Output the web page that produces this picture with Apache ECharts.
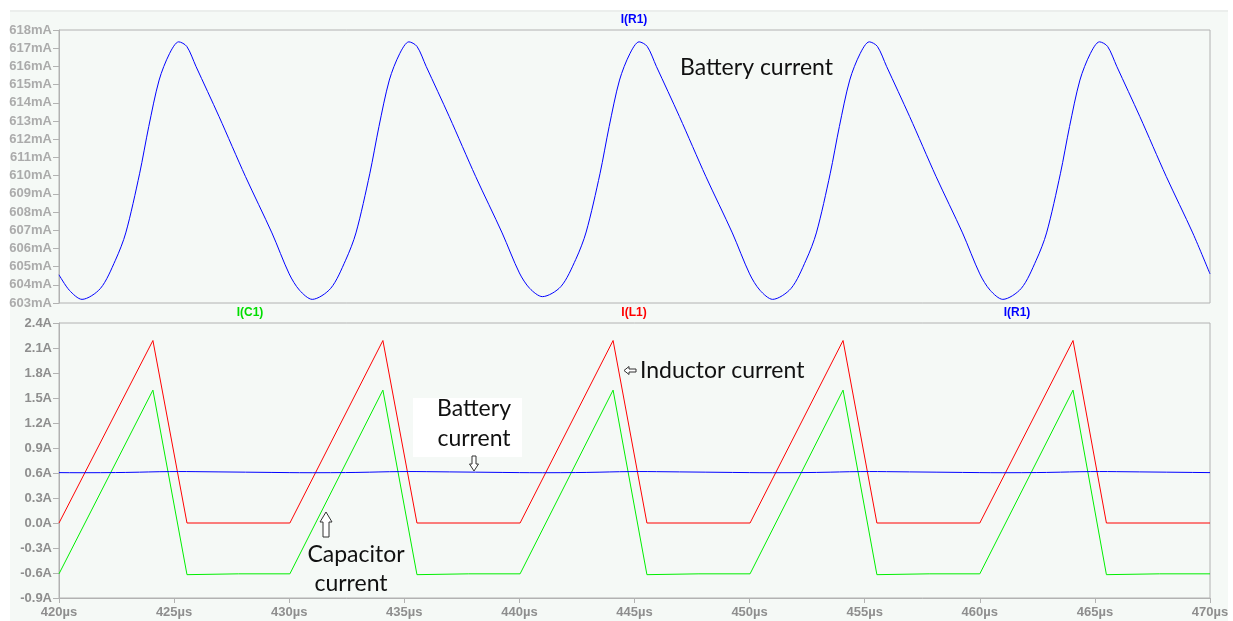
<!DOCTYPE html>
<html>
<head>
<meta charset="utf-8">
<title>I(R1) I(L1) I(C1)</title>
<script src="https://cdn.jsdelivr.net/npm/echarts@6/dist/echarts.min.js"></script>
<style>
  html, body { margin: 0; padding: 0; background: #fff; }
  #bg { position: absolute; left: 10px; top: 10px; width: 1218px; height: 611px;
        background: #f5f9f6; border-top: 2px solid #ebeeec; box-sizing: border-box; }
  #chart { position: absolute; left: 0; top: 0; width: 1233px; height: 621px; }
</style>
</head>
<body>
<div id="bg"></div>
<div id="chart"></div>
<script>
// time axis (µs)
var timeTicks = [420, 425, 430, 435, 440, 445, 450, 455, 460, 465, 470];

// battery current I(R1) (mA)
var batteryTime = [
  420, 420.45, 421, 421.8, 422.45, 422.9, 423.5, 423.9, 424.35, 424.8, 425.2, 425.55, 425.95, 426.95, 428.1, 429.25,
  430, 430.45, 431, 431.8, 432.45, 432.9, 433.5, 433.9, 434.35, 434.8, 435.2, 435.55, 435.95, 436.95, 438.1, 439.25,
  440, 440.45, 441, 441.8, 442.45, 442.9, 443.5, 443.9, 444.35, 444.8, 445.2, 445.55, 445.95, 446.95, 448.1, 449.25,
  450, 450.45, 451, 451.8, 452.45, 452.9, 453.5, 453.9, 454.35, 454.8, 455.2, 455.55, 455.95, 456.95, 458.1, 459.25,
  460, 460.45, 461, 461.8, 462.45, 462.9, 463.5, 463.9, 464.35, 464.8, 465.2, 465.55, 465.95, 466.95, 468.1, 469.25,
  470
];
var batteryMA = [
  604.55, 603.7, 603.2, 603.8, 605.35, 606.85, 610.1, 612.7, 615.25, 616.7, 617.35, 617.1, 616.0, 613.25, 609.95, 606.85,
  604.6, 603.7, 603.2, 603.8, 605.35, 606.85, 610.1, 612.7, 615.25, 616.7, 617.35, 617.1, 616.0, 613.25, 609.95, 606.85,
  604.65, 603.8, 603.35, 603.9, 605.4, 606.9, 610.1, 612.7, 615.25, 616.7, 617.35, 617.1, 616.0, 613.25, 609.95, 606.85,
  604.6, 603.7, 603.2, 603.8, 605.35, 606.85, 610.1, 612.7, 615.25, 616.7, 617.35, 617.1, 616.0, 613.25, 609.95, 606.85,
  604.6, 603.7, 603.2, 603.8, 605.35, 606.85, 610.1, 612.7, 615.25, 616.7, 617.35, 617.1, 616.0, 613.25, 609.95, 606.85,
  604.6
];

// inductor current I(L1) (A)
var inductorTime = [420, 424.08, 425.56, 430.03, 434.07, 435.55, 440.03, 444.07, 445.54, 450.02, 454.06, 455.53, 460.0, 464.05, 465.5, 470];
var inductorA    = [0, 2.19, 0, 0, 2.19, 0, 0, 2.19, 0, 0, 2.19, 0, 0, 2.19, 0, 0];

// capacitor current I(C1) (A)
var capacitorTime = [420, 424.08, 425.56, 427.8, 430.03, 434.07, 435.55, 437.8, 440.03, 444.07, 445.54, 447.8, 450.02, 454.06, 455.53, 457.8, 460.0, 464.05, 465.5, 467.8, 470];
var capacitorA    = [-0.61, 1.595, -0.62, -0.61, -0.61, 1.595, -0.62, -0.61, -0.61, 1.595, -0.62, -0.61, -0.61, 1.595, -0.62, -0.61, -0.61, 1.595, -0.62, -0.61, -0.61];

function zip(xs, ys, k) {
  return xs.map(function (x, i) { return [x, ys[i] * (k || 1)]; });
}

var axisGray = '#b2b2b2';
var labelFont = 'Liberation Sans';
var noteFont = 'Lato';

var chart = echarts.init(document.getElementById('chart'), null, { renderer: 'canvas' });

var option = {
  animation: false,
  backgroundColor: 'transparent',
  grid: [
    { left: 59, top: 30, width: 1151, height: 273, show: true, borderColor: axisGray, borderWidth: 1 },
    { left: 59, top: 323, width: 1151, height: 275, show: true, borderColor: axisGray, borderWidth: 1 }
  ],
  xAxis: [
    {
      type: 'value', gridIndex: 0, min: 420, max: 470, interval: 5,
      axisLine: { show: false, onZero: false }, axisTick: { show: false }, axisLabel: { show: false }, splitLine: { show: false }
    },
    {
      type: 'value', gridIndex: 1, min: 420, max: 470, interval: 5,
      axisLine: { show: true, onZero: false, lineStyle: { color: axisGray } },
      axisTick: { show: true, length: 5, lineStyle: { color: axisGray } },
      splitLine: { show: false },
      axisLabel: {
        margin: 8, color: '#8e8e8e', fontFamily: labelFont, fontWeight: 'bold', fontSize: 13,
        formatter: function (v) { return v + 'µs'; }
      }
    }
  ],
  yAxis: [
    {
      type: 'value', gridIndex: 0, min: 603, max: 618, interval: 1,
      axisLine: { show: true, onZero: false, lineStyle: { color: axisGray } },
      axisTick: { show: true, length: 6, lineStyle: { color: axisGray } },
      splitLine: { show: false },
      axisLabel: {
        margin: 7, color: '#ababab', fontFamily: labelFont, fontWeight: 'bold', fontSize: 13,
        formatter: function (v) { return v + 'mA'; }
      }
    },
    {
      type: 'value', gridIndex: 1, min: -0.9, max: 2.4, interval: 0.3,
      axisLine: { show: true, onZero: false, lineStyle: { color: axisGray } },
      axisTick: { show: true, length: 6, lineStyle: { color: axisGray } },
      splitLine: { show: false },
      axisLabel: {
        margin: 7, color: '#8e8e8e', fontFamily: labelFont, fontWeight: 'bold', fontSize: 13,
        formatter: function (v) { return (Math.abs(v) < 1e-9 ? 0 : v).toFixed(1) + 'A'; }
      }
    }
  ],
  series: [
    {
      name: 'I(R1)', type: 'line', xAxisIndex: 0, yAxisIndex: 0, smooth: 0.3, showSymbol: false,
      lineStyle: { color: '#0000ff', width: 1 }, data: zip(batteryTime, batteryMA)
    },
    {
      name: 'I(L1)', type: 'line', xAxisIndex: 1, yAxisIndex: 1, showSymbol: false,
      lineStyle: { color: '#ff0000', width: 1 }, data: zip(inductorTime, inductorA)
    },
    {
      name: 'I(C1)', type: 'line', xAxisIndex: 1, yAxisIndex: 1, showSymbol: false,
      lineStyle: { color: '#00ee00', width: 1 }, data: zip(capacitorTime, capacitorA)
    },
    {
      name: 'I(R1) ', type: 'line', xAxisIndex: 1, yAxisIndex: 1, showSymbol: false,
      lineStyle: { color: '#0000ff', width: 1 }, data: zip(batteryTime, batteryMA, 0.001)
    }
  ],
  graphic: [
    // trace names
    { type: 'text', z: 100, style: { text: 'I(R1)', x: 634, y: 20, align: 'center', verticalAlign: 'middle', fill: '#0000ff', font: 'bold 12px ' + labelFont } },
    { type: 'text', z: 100, style: { text: 'I(C1)', x: 250, y: 313, align: 'center', verticalAlign: 'middle', fill: '#00dd00', font: 'bold 12px ' + labelFont } },
    { type: 'text', z: 100, style: { text: 'I(L1)', x: 634, y: 313, align: 'center', verticalAlign: 'middle', fill: '#ff0000', font: 'bold 12px ' + labelFont } },
    { type: 'text', z: 100, style: { text: 'I(R1)', x: 1017, y: 313, align: 'center', verticalAlign: 'middle', fill: '#0000ff', font: 'bold 12px ' + labelFont } },
    // annotations
    { type: 'text', z: 100, style: { text: 'Battery current', x: 680, y: 68, align: 'left', verticalAlign: 'middle', fill: '#111', font: '23px ' + noteFont } },
    { type: 'text', z: 100, style: { text: 'Inductor current', x: 640, y: 371, align: 'left', verticalAlign: 'middle', fill: '#111', font: '23px ' + noteFont } },
    { type: 'polygon', z: 100, shape: { points: [[624, 370.5], [629, 366.5], [629, 369], [636, 369], [636, 372], [629, 372], [629, 374.5]] }, style: { fill: '#fff', stroke: '#333', lineWidth: 1 } },
    { type: 'rect', z: 99, shape: { x: 413, y: 398, width: 109, height: 59 }, style: { fill: '#ffffff' } },
    { type: 'text', z: 100, style: { text: 'Battery', x: 474, y: 409, align: 'center', verticalAlign: 'middle', fill: '#111', font: '23px ' + noteFont } },
    { type: 'text', z: 100, style: { text: 'current', x: 474, y: 439, align: 'center', verticalAlign: 'middle', fill: '#111', font: '23px ' + noteFont } },
    { type: 'polygon', z: 100, shape: { points: [[472, 456], [476, 456], [476, 464], [478.5, 464], [474, 471], [469.5, 464], [472, 464]] }, style: { fill: '#fff', stroke: '#333', lineWidth: 1 } },
    { type: 'polygon', z: 100, shape: { points: [[326, 512], [332, 522], [329, 522], [329, 537], [323, 537], [323, 522], [320, 522]] }, style: { fill: '#fff', stroke: '#333', lineWidth: 1 } },
    { type: 'text', z: 100, style: { text: 'Capacitor', x: 356, y: 555, align: 'center', verticalAlign: 'middle', fill: '#111', font: '23px ' + noteFont } },
    { type: 'text', z: 100, style: { text: 'current', x: 351, y: 584, align: 'center', verticalAlign: 'middle', fill: '#111', font: '23px ' + noteFont } }
  ]
};

chart.setOption(option);
</script>
</body>
</html>
